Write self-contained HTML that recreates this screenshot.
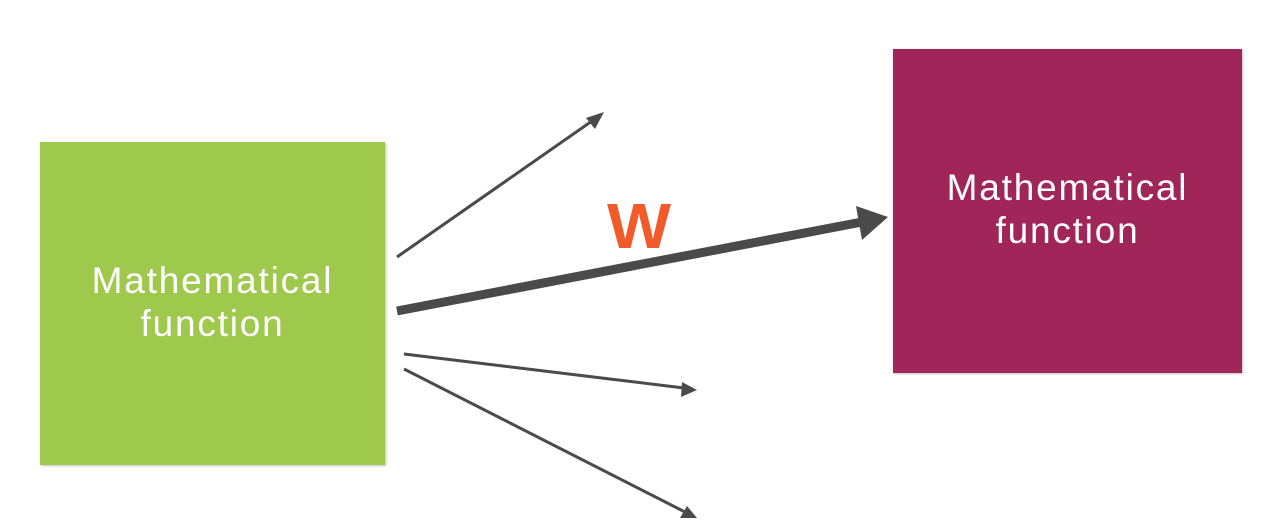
<!DOCTYPE html>
<html><head><meta charset="utf-8"><style>
html,body{margin:0;padding:0;background:#fff;}
body{width:1269px;height:529px;position:relative;overflow:hidden;font-family:"Liberation Sans",sans-serif;}
.box{position:absolute;color:#fff;text-align:center;font-size:37px;line-height:43px;letter-spacing:1.8px;box-shadow:1px 1px 2px rgba(0,0,0,0.25);}
</style></head><body>
<div class="box" style="left:40px;top:142px;width:345px;height:323px;background:#9FC94D;">
<div style="position:absolute;left:0;right:0;top:117px;">Mathematical<br>function</div>
</div>
<div class="box" style="left:893px;top:49px;width:349px;height:324px;background:#A0265A;">
<div style="position:absolute;left:0;right:0;top:117px;">Mathematical<br>function</div>
</div>
<svg width="1269" height="529" style="position:absolute;left:0;top:0">
<g stroke="#4a4a4a" fill="#4a4a4a">
<line x1="397" y1="257" x2="592" y2="121" stroke-width="3"/>
<polygon points="604,112 586,118 595,129" stroke="none"/>
<line x1="397" y1="311" x2="862" y2="222" stroke-width="9"/>
<polygon points="888,217 856,206 862,240" stroke="none"/>
<line x1="404" y1="354" x2="684" y2="388" stroke-width="3"/>
<polygon points="697,390 682,382 681,397" stroke="none"/>
<line x1="404" y1="369" x2="685" y2="512" stroke-width="3"/>
<polygon points="697,518 687,506 680,518" stroke="none"/>
</g>
<text x="639" y="248" text-anchor="middle" font-family="Liberation Sans" font-size="64" font-weight="bold" fill="#F15A2B" textLength="64" lengthAdjust="spacingAndGlyphs">W</text>
</svg>
</body></html>
